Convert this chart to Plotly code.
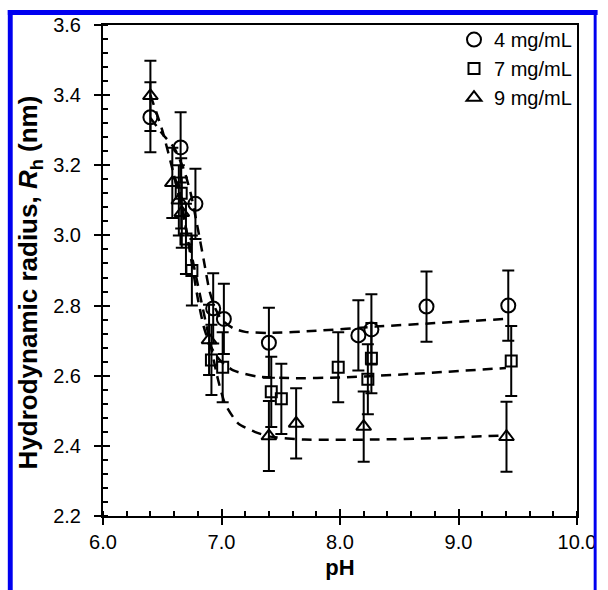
import plotly.graph_objects as go

# ---- data ----
ph_4 = [6.40, 6.655, 6.78, 6.93, 7.02, 7.40, 8.155, 8.265, 8.73, 9.42]
rh_4 = [3.337, 3.251, 3.090, 2.792, 2.762, 2.694, 2.715, 2.732, 2.797, 2.800]

ph_7 = [6.66, 6.70, 6.75, 6.915, 7.01, 7.42, 7.505, 7.985, 8.235, 8.265, 9.445]
rh_7 = [3.12, 2.99, 2.90, 2.645, 2.624, 2.554, 2.534, 2.624, 2.590, 2.650, 2.642]

ph_9 = [6.40, 6.585, 6.64, 6.665, 6.895, 7.40, 7.63, 8.20, 9.405]
rh_9 = [3.398, 3.150, 3.100, 3.065, 2.702, 2.428, 2.464, 2.455, 2.426]

err = 0.1

fit_ph_4 = [6.40, 6.50, 6.60, 6.68, 6.74, 6.80, 6.85, 6.90, 6.95, 7.00, 7.10, 7.20, 7.40, 7.80, 8.30, 8.80, 9.40]
fit_rh_4 = [3.335, 3.29, 3.25, 3.19, 3.12, 3.02, 2.93, 2.84, 2.79, 2.76, 2.735, 2.725, 2.722, 2.728, 2.740, 2.750, 2.762]

fit_ph_7 = [6.60, 6.65, 6.70, 6.75, 6.80, 6.85, 6.90, 6.95, 7.00, 7.10, 7.30, 7.60, 8.00, 8.60, 9.40]
fit_rh_7 = [3.17, 3.12, 3.02, 2.92, 2.82, 2.74, 2.69, 2.66, 2.64, 2.615, 2.598, 2.593, 2.595, 2.605, 2.622]

fit_ph_9 = [6.40, 6.50, 6.60, 6.70, 6.80, 6.90, 6.97, 7.03, 7.14, 7.28, 7.40, 7.70, 8.30, 8.80, 9.40]
fit_rh_9 = [3.40, 3.30, 3.17, 3.02, 2.86, 2.70, 2.59, 2.52, 2.464, 2.44, 2.427, 2.418, 2.418, 2.422, 2.43]

labels = ["4 mg/mL", "7 mg/mL", "9 mg/mL"]
x_ticks = [6.0, 7.0, 8.0, 9.0, 10.0]
y_ticks = [2.2, 2.4, 2.6, 2.8, 3.0, 3.2, 3.4, 3.6]
y_title = "<b>Hydrodynamic radius, <i>R</i><sub>h</sub> (nm)</b>"
x_title = "<b>pH</b>"

FONT = "Liberation Sans, Arial, sans-serif"
fig = go.Figure()

dash = "10px,7px"
for fx, fy in [(fit_ph_4, fit_rh_4), (fit_ph_7, fit_rh_7), (fit_ph_9, fit_rh_9)]:
    fig.add_trace(go.Scatter(x=fx, y=fy, mode="lines", showlegend=False, hoverinfo="skip",
                             line=dict(color="black", width=2.5, dash=dash, shape="spline", smoothing=0.6)))

series = [(ph_4, rh_4, "circle-open", 14), (ph_7, rh_7, "square-open", 11), (ph_9, rh_9, "triangle-up-open", 13)]
for (xs, ys, sym, sz), lab in zip(series, labels):
    fig.add_trace(go.Scatter(
        x=xs, y=ys, mode="markers", name=lab,
        marker=dict(symbol=sym, size=sz, color="black", line=dict(color="black", width=2)),
        error_y=dict(type="constant", value=err, color="black", thickness=2, width=6),
    ))

# invisible trace for overlay axes (inner halves of major ticks)
fig.add_trace(go.Scatter(x=[x_ticks[0]], y=[y_ticks[0]], xaxis="x2", yaxis="y2", mode="markers",
                         marker=dict(opacity=0), showlegend=False, hoverinfo="skip"))

axis_common = dict(showgrid=False, zeroline=False, linecolor="black", linewidth=2,
                   tickcolor="black", tickwidth=2, ticklen=7)

fig.update_layout(
    width=608, height=590,
    margin=dict(l=103, r=22, t=25, b=74),
    paper_bgcolor="white", plot_bgcolor="white",
    font=dict(family=FONT, color="black"),
    xaxis=dict(range=[6, 10], tickvals=x_ticks, tickformat=".1f", ticks="outside",
               showline=True, mirror=True,
               minor=dict(dtick=0.2, ticks="inside", ticklen=5, tickwidth=1.5, tickcolor="black"),
               tickfont=dict(family=FONT, size=20, color="black"),
               title=dict(text=x_title, font=dict(family=FONT, size=22), standoff=8),
               ticklabelstandoff=0, **axis_common),
    yaxis=dict(range=[2.2, 3.6], tickvals=y_ticks, tickformat=".1f", ticks="outside",
               showline=True, mirror=True,
               minor=dict(dtick=0.04, ticks="inside", ticklen=5, tickwidth=1.5, tickcolor="black"),
               tickfont=dict(family=FONT, size=20, color="black"),
               ticklabelstandoff=9, **axis_common),
    xaxis2=dict(overlaying="x", matches="x", range=[6, 10], tickvals=x_ticks, ticks="inside",
                ticklen=7, tickwidth=2, tickcolor="black", showticklabels=False,
                showline=False, showgrid=False, zeroline=False),
    yaxis2=dict(overlaying="y", matches="y", range=[2.2, 3.6], tickvals=y_ticks, ticks="inside",
                ticklen=7, tickwidth=2, tickcolor="black", showticklabels=False,
                showline=False, showgrid=False, zeroline=False),
    legend=dict(x=1, xanchor="right", y=1.01, yanchor="top", bgcolor="rgba(0,0,0,0)",
                font=dict(family=FONT, size=20, color="black"), itemwidth=30,
                tracegroupgap=0),
    showlegend=True,
)

L, R, T, B = 103, 586, 25, 516
pw, ph = R - L, B - T
def px(x):
    return (x - L) / pw
def py(y):
    return (B - y) / ph

# y-axis title as a rotated annotation
fig.add_annotation(text=y_title, textangle=-90, xref="paper", yref="paper",
                   x=px(28), y=py(282), xanchor="center", yanchor="middle", showarrow=False,
                   font=dict(family=FONT, size=26, color="black"))

# blue frame around the figure
blue = "#0000F0"
for x0, x1, y0, y1 in [(6, 11, 10, 590), (6, 607, 10, 15), (603, 606, 10, 590)]:
    fig.add_shape(type="rect", xref="paper", yref="paper", x0=px(x0), x1=px(x1), y0=py(y1), y1=py(y0),
                  fillcolor=blue, line=dict(width=0), layer="above")

fig.write_html("out.html")
